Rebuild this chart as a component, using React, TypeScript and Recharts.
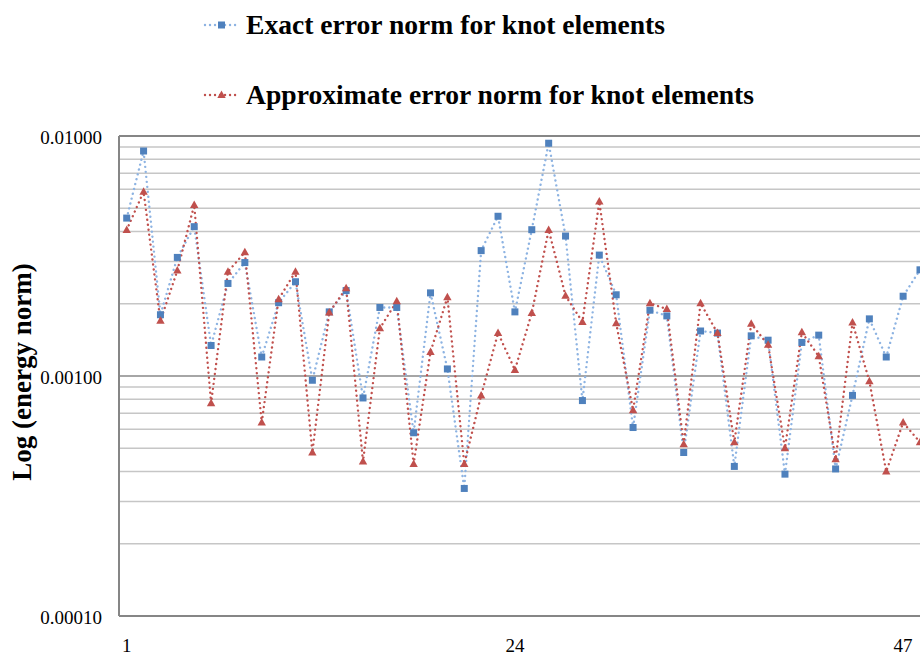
import React from 'react';
import { LineChart, Line, XAxis, YAxis, ReferenceLine } from 'recharts';

const categories = [
  '1', '2', '3', '4', '5', '6', '7', '8', '9', '10', '11', '12', '13', '14', '15', '16',
  '17', '18', '19', '20', '21', '22', '23', '24', '25', '26', '27', '28', '29', '30', '31', '32',
  '33', '34', '35', '36', '37', '38', '39', '40', '41', '42', '43', '44', '45', '46', '47', '48',
];

const exactNorm = [
  0.00455, 0.00866, 0.0018, 0.00312, 0.00419, 0.00134, 0.00243, 0.00297,
  0.0012, 0.00202, 0.00247, 0.00096, 0.00185, 0.00227, 0.00081, 0.00193,
  0.00193, 0.00058, 0.00222, 0.00107, 0.00034, 0.00333, 0.00463, 0.00185,
  0.00407, 0.00933, 0.00383, 0.00079, 0.00319, 0.00218, 0.00061, 0.00188,
  0.00178, 0.00048, 0.00154, 0.00151, 0.00042, 0.00147, 0.00141, 0.00039,
  0.00138, 0.00148, 0.00041, 0.00083, 0.00173, 0.0012, 0.00215, 0.00277,
];

const approxNorm = [
  0.00406, 0.00586, 0.0017, 0.00275, 0.00516, 0.00077, 0.00272, 0.00328,
  0.00064, 0.00209, 0.00272, 0.00048, 0.00184, 0.00232, 0.00044, 0.00158,
  0.00205, 0.00043, 0.00126, 0.00213, 0.00043, 0.00083, 0.00151, 0.00106,
  0.00183, 0.00406, 0.00216, 0.00168, 0.00533, 0.00166, 0.00072, 0.00201,
  0.0019, 0.00052, 0.00201, 0.00151, 0.00053, 0.00165, 0.00135, 0.0005,
  0.00152, 0.00121, 0.00045, 0.00167, 0.00095, 0.0004, 0.00064, 0.00053,
];

const yTicks = [0.0001, 0.001, 0.01];
const minorGrid = [
  0.0002, 0.0003, 0.0004, 0.0005, 0.0006, 0.0007, 0.0008, 0.0009,
  0.002, 0.003, 0.004, 0.005, 0.006, 0.007, 0.008, 0.009,
];
const majorGrid = [0.001];
const topBorder = [0.01];

const exactLabel = 'Exact error norm for knot elements';
const approxLabel = 'Approximate error norm for knot elements';
const yTitle = 'Log (energy norm)';

const data = categories.map((c, i) => ({ n: c, exact: exactNorm[i], approx: approxNorm[i] }));

const BLUE = '#4f81bd';
const BLUE_LINE = '#8db3e2';
const RED = '#c0504d';
const FONT = "'Liberation Serif', 'Times New Roman', serif";
const serif: React.CSSProperties = { fontFamily: FONT };

const SquareDot = (props: any) => {
  const { cx, cy, index } = props;
  if (cx == null || cy == null) return <g key={`s${index}`} />;
  return <rect key={`s${index}`} x={cx - 3.5} y={cy - 3.5} width={7} height={7} fill={BLUE} />;
};

const TriDot = (props: any) => {
  const { cx, cy, index } = props;
  if (cx == null || cy == null) return <g key={`t${index}`} />;
  return (
    <polygon
      key={`t${index}`}
      points={`${cx},${cy - 4.5} ${cx + 4.2},${cy + 3} ${cx - 4.2},${cy + 3}`}
      fill={RED}
    />
  );
};

const YTick = (props: any) => {
  const { x, y, payload } = props;
  return (
    <text x={x} y={y} dy={8} textAnchor="end" style={{ ...serif, fontSize: 19 }} fill="#000">
      {Number(payload.value).toFixed(5)}
    </text>
  );
};

const XTick = (props: any) => {
  const { x, y, payload } = props;
  return (
    <text x={x} y={y} dy={34} textAnchor="middle" style={{ ...serif, fontSize: 19 }} fill="#000">
      {payload.value}
    </text>
  );
};

export default function App() {
  return (
    <div
      style={{
        position: 'absolute',
        left: 0,
        top: 0,
        width: 920,
        height: 656,
        overflow: 'hidden',
        background: '#fff',
        fontFamily: FONT,
      }}
    >
      <LineChart
        width={940}
        height={656}
        data={data}
        margin={{ top: 136, right: 11, bottom: 0, left: 0 }}
        style={serif}
      >
        <XAxis
          dataKey="n"
          interval={22}
          padding={{ left: 7.7, right: 9 }}
          height={40}
          tickLine={false}
          tickSize={0}
          axisLine={{ stroke: '#868686', strokeWidth: 2 }}
          tick={(p: any) => <XTick {...p} />}
        />
        <YAxis
          scale="log"
          domain={[0.0001, 0.01]}
          ticks={yTicks}
          allowDataOverflow
          width={119}
          tickLine={false}
          tickSize={0}
          tickMargin={17}
          axisLine={{ stroke: '#868686', strokeWidth: 2 }}
          tick={(p: any) => <YTick {...p} />}
        />
        {minorGrid.map((v) => (
          <ReferenceLine key={`mg${v}`} y={v} stroke="#c6c6c6" strokeWidth={1.5} />
        ))}
        {majorGrid.map((v) => (
          <ReferenceLine key={`Mg${v}`} y={v} stroke="#a6a6a6" strokeWidth={2} />
        ))}
        {topBorder.map((v) => (
          <ReferenceLine key={`tb${v}`} y={v} stroke="#868686" strokeWidth={2} />
        ))}
        <Line
          type="linear"
          dataKey="exact"
          stroke={BLUE_LINE}
          strokeWidth={2.4}
          strokeDasharray="0.01 5"
          strokeLinecap="round"
          dot={SquareDot}
          activeDot={false}
          isAnimationActive={false}
        />
        <Line
          type="linear"
          dataKey="approx"
          stroke={RED}
          strokeWidth={2.4}
          strokeDasharray="0.01 5"
          strokeLinecap="round"
          dot={TriDot}
          activeDot={false}
          isAnimationActive={false}
        />
      </LineChart>
      <svg
        width={920}
        height={656}
        style={{ position: 'absolute', left: 0, top: 0, pointerEvents: 'none' }}
      >
        <g>
          <line x1={205} y1={25} x2={238} y2={25} stroke={BLUE_LINE} strokeWidth={2.4} strokeDasharray="0.01 5" strokeLinecap="round" />
          <rect x={218} y={21.5} width={7} height={7} fill={BLUE} />
          <text x={246} y={34} style={{ ...serif, fontWeight: 'bold', fontSize: 27 }} textLength={419} lengthAdjust="spacingAndGlyphs" fill="#000">
            {exactLabel}
          </text>
        </g>
        <g>
          <line x1={205} y1={95} x2={238} y2={95} stroke={RED} strokeWidth={2.4} strokeDasharray="0.01 5" strokeLinecap="round" />
          <polygon points="221.5,90.5 225.7,98 217.3,98" fill={RED} />
          <text x={246} y={104} style={{ ...serif, fontWeight: 'bold', fontSize: 27 }} textLength={508} lengthAdjust="spacingAndGlyphs" fill="#000">
            {approxLabel}
          </text>
        </g>
        <text
          transform="translate(31, 372) rotate(-90)"
          textAnchor="middle"
          style={{ ...serif, fontWeight: 'bold', fontSize: 27 }}
          fill="#000"
        >
          {yTitle}
        </text>
      </svg>
    </div>
  );
}
